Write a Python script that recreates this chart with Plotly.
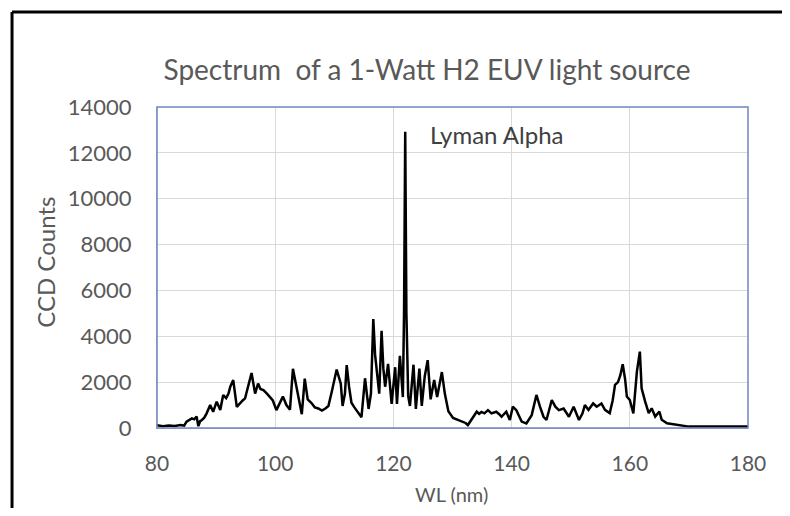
import plotly.graph_objects as go

wavelength_nm = [80.0, 81.0, 82.0, 83.0, 84.0, 84.6, 85.0, 85.5, 85.9, 86.3, 86.7, 87.0, 87.3, 87.6, 88.0, 88.4,
                 89.0, 89.5, 90.1, 90.7, 91.2, 91.7, 92.1, 92.4, 92.9, 93.5, 94.0, 94.5, 94.9, 95.4, 96.0, 96.6,
                 97.1, 97.5, 98.0, 98.6, 99.1, 99.6, 100.2, 100.8, 101.3, 101.9, 102.5, 103.0, 103.6, 104.0, 104.5,
                 105.0, 105.5, 106.1, 106.7, 107.3, 107.9, 108.5, 109.0, 109.6, 110.0, 110.4, 111.1, 111.4, 111.8,
                 112.1, 112.5, 112.9, 113.4, 113.8, 114.2, 114.6, 115.2, 115.8, 116.2, 116.6, 116.9, 117.2, 117.6,
                 118.0, 118.3, 118.6, 119.1, 119.7, 120.3, 120.6, 121.1, 121.6, 121.8, 122.0, 122.2, 122.5, 122.8,
                 123.4, 123.8, 124.4, 124.8, 125.3, 125.8, 126.3, 126.9, 127.4, 128.2, 128.7, 129.3, 130.1, 130.7,
                 131.5, 132.2, 132.6, 133.5, 134.1, 134.5, 134.9, 135.4, 136.0, 136.6, 137.4, 137.9, 138.3, 139.1,
                 139.7, 140.2, 140.8, 141.7, 142.5, 143.4, 144.2, 144.8, 145.4, 145.9, 146.8, 147.4, 148.0, 148.8,
                 149.7, 150.5, 151.0, 151.4, 152.0, 152.4, 153.0, 153.8, 154.4, 155.2, 155.8, 156.6, 157.1, 157.5,
                 158.0, 158.4, 158.8, 159.2, 159.5, 160.0, 160.6, 161.2, 161.7, 162.0, 162.6, 163.2, 163.7, 164.3,
                 165.0, 165.4, 166.3, 167.4, 168.6, 170.0, 175.0, 180.0]
ccd_counts = [120, 80, 110, 90, 130, 100, 280, 350, 420, 380, 500, 80, 300, 350, 450, 640,
              1000, 710, 1150, 790, 1440, 1300, 1500, 1800, 2090, 920, 1070, 1200, 1290, 1800, 2400, 1500,
              1940, 1700, 1650, 1500, 1350, 1200, 780, 1100, 1370, 1000, 800, 2580, 1800, 1200, 600,
              2150, 1250, 1100, 900, 850, 760, 850, 960, 1610, 2100, 2550, 1930, 960, 1500,
              2740, 1800, 1100, 900, 760, 600, 470, 2170, 830, 1500, 4750, 3200, 2440, 1500,
              4240, 2600, 1800, 2800, 1050, 2650, 1050, 3150, 1350, 5000, 12920, 5000, 1400, 960,
              2760, 830, 2590, 960, 2250, 2960, 1250, 2090, 1350, 2440, 1500, 730, 440, 380,
              280, 220, 130, 490, 710, 620, 700, 640, 780, 640, 710, 600, 490, 710,
              350, 930, 780, 280, 200, 560, 1440, 930, 490, 350, 1220, 930, 780, 850,
              490, 930, 600, 350, 640, 1000, 790, 1070, 930, 1070, 790, 650, 1200, 1880,
              2000, 2300, 2780, 2140, 1370, 1220, 640, 2460, 3330, 1730, 1150, 650, 860, 500,
              720, 360, 210, 170, 110, 60, 60, 60]

x_ticks = [80, 100, 120, 140, 160, 180]
y_ticks = [0, 2000, 4000, 6000, 8000, 10000, 12000, 14000]
y_tick_labels = ["0", "2000", "4000", "6000", "8000", "10000", "12000", "14000"]

title_text = "Spectrum  of a 1-Watt H2 EUV light source"
x_title = "WL (nm)"
y_title = "CCD Counts"
peak_label = "Lyman Alpha"

FONT = "Lato"
GRAY = "#595959"

# the page body adds an 8px margin on every side, so the figure is sized to fit inside it
W, H = 774, 500

fig = go.Figure()
fig.add_trace(go.Scatter(x=wavelength_nm, y=ccd_counts, mode="lines",
                         line=dict(color="black", width=2.5), hoverinfo="skip"))

fig.update_layout(
    width=W, height=H,
    margin=dict(l=149, r=34, t=99, b=80),
    paper_bgcolor="white", plot_bgcolor="white",
    showlegend=False,
    title=dict(text=title_text, x=419 / W, xanchor="center", y=1 - 62 / H, yanchor="middle",
               font=dict(family=FONT, size=28, color=GRAY)),
    xaxis=dict(range=[80, 180], tickvals=x_ticks, showgrid=True, gridcolor="#D9D9D9", gridwidth=1,
               showline=True, linecolor="#BFBFBF", linewidth=1, zeroline=False, automargin=False,
               ticks="", ticklabelstandoff=17,
               tickfont=dict(family=FONT, size=21, color=GRAY)),
    yaxis=dict(range=[0, 14000], tickvals=y_ticks, ticktext=y_tick_labels, showgrid=True,
               gridcolor="#D9D9D9", gridwidth=1,
               showline=True, linecolor="#BFBFBF", linewidth=1, zeroline=False, automargin=False,
               ticks="", ticklabelstandoff=20,
               tickfont=dict(family=FONT, size=22, color=GRAY)),
    shapes=[
        dict(type="rect", xref="paper", yref="paper", x0=0, x1=1, y0=0, y1=1,
             line=dict(color="#6F87BF", width=1.5), layer="above"),
        # outer black frame (left and top edges, the rest lies beyond the picture)
        dict(type="line", xref="paper", yref="paper", x0=-0.2453, x1=-0.2453, y0=-0.4, y1=1.296,
             line=dict(color="black", width=3)),
        dict(type="line", xref="paper", yref="paper", x0=-0.2453, x1=1.2, y0=1.296, y1=1.296,
             line=dict(color="black", width=3)),
    ],
    annotations=[
        dict(text=peak_label, x=125.9, y=12780, xref="x", yref="y", xanchor="left", yanchor="middle",
             showarrow=False, font=dict(family=FONT, size=24, color="#404040")),
        dict(text=x_title, x=0.499, y=-0.2056, xref="paper", yref="paper", xanchor="center",
             yanchor="middle", showarrow=False, font=dict(family=FONT, size=20, color=GRAY)),
        dict(text=y_title, x=-0.19, y=0.517, xref="paper", yref="paper", xanchor="center",
             yanchor="middle", textangle=-90, showarrow=False, font=dict(family=FONT, size=24, color=GRAY)),
    ],
)

fig.write_html("out.html")
